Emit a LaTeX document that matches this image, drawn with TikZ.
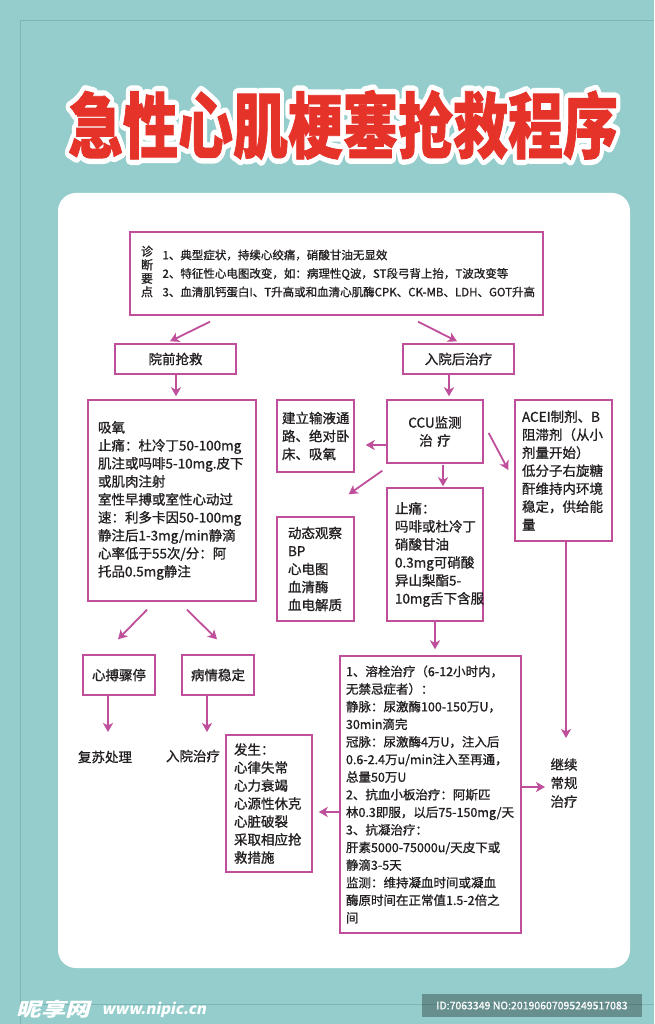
\documentclass[tikz,border=0pt]{standalone}
\usepackage{fontspec}
\setmainfont{Noto Sans CJK SC}[UprightFeatures={FakeBold=1}]
\newfontfamily\wmfont{Noto Sans CJK SC}[FakeSlant=0.2]
\newfontfamily\titleRed{Noto Sans CJK SC}[BoldFeatures={FakeBold=1.2}]
\newfontfamily\titleWhite{Noto Sans CJK SC}
\usetikzlibrary{arrows.meta,calc}
\definecolor{bg}{HTML}{94CDCC}
\definecolor{guide}{HTML}{7DB4B4}
\definecolor{mag}{HTML}{BF4F9A}
\definecolor{txt}{HTML}{231F20}
\definecolor{titlered}{HTML}{E5332A}
\newcommand\titlechars{急性心肌梗塞抢救程序}
\newcommand\titletext{\titleRed\fontsize{55}{55}\selectfont\bfseries\scalebox{1}[1.3]{\titlechars}}
\newcommand\titleoutline{\titleWhite\fontsize{55}{55}\selectfont\bfseries\scalebox{1}[1.3]{\special{pdf:literal direct 1 Tr 9 w 1 j 1 J}\titlechars\special{pdf:literal direct 0 Tr}}}
\begin{document}
\begin{tikzpicture}[x=1pt,y=-1pt,
  box/.style={draw=mag, line width=1.4pt, fill=white, text=txt, inner ysep=0pt},
  body/.style={font=\fontsize{13.5}{18}\selectfont, align=left},
  ctr/.style={font=\fontsize{13.5}{18}\selectfont, align=center},
  plain/.style={text=txt, font=\fontsize{13.5}{18.5}\selectfont, align=center},
  arr/.style={draw=mag, line width=1.8pt, -{Stealth[length=9pt,width=10pt,inset=2.5pt]}}]
\useasboundingbox (0,0) rectangle (654,1024);
\fill[bg] (0,0) rectangle (654,1024);
% guide lines
\draw[guide, line width=0.8pt] (20,20) -- (654,20);
\draw[guide, line width=0.8pt] (20,20) -- (20,1024);
\draw[guide, line width=0.8pt] (20,1004) -- (654,1004);
% white panel
\fill[white, rounded corners=18pt] (58,193) rectangle (630,968);
% title: stroked white outline, then red text
\node[text=white] (titleline) at (343,125) {\titleoutline};
\node[text=titlered] (title) at (343,125) {\titletext};

% diagnosis box
\node[box, minimum width=413pt, minimum height=83pt] (diag) at (336.5,273.5) {};
\node[text=txt, font=\fontsize{12}{13.5}\selectfont, align=center] (diaglab) at (147,271.5) {诊\\断\\要\\点};
\node[text=txt, anchor=west, font=\fontsize{11.5}{18.5}\selectfont, align=left] (diagtxt) at (159,273.5)
 {1、典型症状，持续心绞痛，硝酸甘油无显效\\
  2、特征性心电图改变，如：病理性Q波，ST段弓背上抬，T波改变等\\
  3、血清肌钙蛋白I、T升高或和血清心肌酶CPK、CK-MB、LDH、GOT升高};

\node[box, ctr, minimum width=121pt, minimum height=30pt] (pre) at (175.5,359) {院前抢救};
\node[box, ctr, minimum width=111pt, minimum height=30pt] (post) at (458.5,359) {入院后治疗};

\node[box, body, text width=148pt, inner xsep=10pt, minimum height=201pt] (oxy) at (172,500.5)
 {吸氧\\止痛：杜冷丁50-100mg\\肌注或吗啡5-10mg.皮下\\或肌肉注射\\室性早搏或室性心动过\\速：利多卡因50-100mg\\静注后1-3mg/min静滴\\心率低于55次/分：阿\\托品0.5mg静注};

\node[box, body, text width=67pt, inner xsep=5pt, minimum height=72pt] (infuse) at (315.5,436)
 {建立输液通\\路、绝对卧\\床、吸氧};
\node[box, ctr, text width=86pt, inner xsep=5pt, minimum height=63pt] (ccu) at (435,431.5)
 {CCU监测\\治\ 疗};
\node[box, body, text width=83pt, inner xsep=7pt, minimum height=141pt] (acei) at (563.5,470.5)
 {ACEI制剂、B\\阻滞剂（从小\\剂量开始）\\低分子右旋糖\\酐维持内环境\\稳定，供给能\\量};
\node[box, body, text width=55pt, inner xsep=11pt, minimum height=104pt] (observe) at (315.5,569)
 {动态观察\\BP\\心电图\\血清酶\\血电解质};
\node[box, body, text width=80pt, inner xsep=8pt, minimum height=133pt] (pain) at (435,554.5)
 {止痛：\\吗啡或杜冷丁\\硝酸甘油\\0.3mg可硝酸\\异山梨酯5-\\10mg舌下含服};

\node[box, ctr, minimum width=72pt, minimum height=40pt] (arrest) at (119,675) {心搏骤停};
\node[box, ctr, minimum width=72pt, minimum height=40pt] (stable) at (218,675) {病情稳定};

\node[box, align=left, font=\fontsize{12.5}{17.6}\selectfont, text width=169pt, inner xsep=6pt, minimum height=277pt] (big) at (430.5,794.5)
 {1、溶栓治疗（6-12小时内，\\无禁忌症者）：\\静脉：尿激酶100-150万U，\\30min滴完\\冠脉：尿激酶4万U，注入后\\0.6-2.4万u/min注入至再通，\\总量50万U\\2、抗血小板治疗：阿斯匹\\林0.3即服，以后75-150mg/天\\3、抗凝治疗：\\肝素5000-75000u/天皮下或\\静滴3-5天\\监测：维持凝血时间或凝血\\酶原时间在正常值1.5-2倍之\\间};

\node[box, body, text width=70pt, inner xsep=8pt, minimum height=137pt] (occur) at (269,803.5)
 {发生：\\心律失常\\心力衰竭\\心源性休克\\心脏破裂\\采取相应抢\\救措施};

\node[plain] (resus) at (105,757) {复苏处理};
\node[plain] (admit) at (193,756) {入院治疗};
\node[plain] (cont) at (564,783) {继续\\常规\\治疗};

% connectors
\draw[arr] ($(diag.south)+(-126.5,6)$) -- ($(pre.north)+(-5.5,-2)$);
\draw[arr] ($(diag.south)+(81.5,6)$) -- ($(post.north)+(-1.5,-2)$);
\draw[arr] ($(pre.south)+(0.5,0)$) -- ($(oxy.north)+(4,-3)$);
\draw[arr] ($(post.south)+(-9.5,0)$) -- ($(ccu.north)+(14,-3)$);
\draw[arr] ($(ccu.west)+(0,13.5)$) -- ($(infuse.east)+(11,9)$);
\draw[arr] ($(ccu.south west)+(-4,7)$) -- ($(observe.north east)+(-6,-22)$);
\draw[arr] ($(ccu.south)+(8,1)$) -- ($(pain.north)+(8,-1)$);
\draw[arr] ($(ccu.east)+(5,1.5)$) -- ($(acei.west)+(-6,-0.5)$);
\draw[arr] (pain.south) -- ($(big.north)+(4.5,-6)$);
\draw[arr] ($(acei.south)+(2.5,0)$) -- ($(cont.center)+(2,-45)$);
\draw[arr] ($(big.east)+(0,-7.5)$) -- ($(cont.center)+(-19,4)$);
\draw[arr] ($(big.west)+(0,17.5)$) -- ($(occur.east)+(6,8.5)$);
\draw[arr] ($(oxy.south)+(-25,8)$) -- ($(arrest.north)+(-1,-15)$);
\draw[arr] ($(oxy.south)+(15,8)$) -- ($(stable.north)+(-1,-15)$);
\draw[arr] ($(arrest.south)+(-11,0)$) -- ($(resus.center)+(3,-25)$);
\draw[arr] ($(stable.south)+(-11,0)$) -- ($(admit.center)+(14,-24)$);

% watermark
\node[anchor=west, text=white, font=\wmfont\bfseries\fontsize{19}{19}\selectfont] (wm1) at (13,1009) {\scalebox{1.3}[1]{昵享网}};
\node[anchor=west, text=white, font=\wmfont\bfseries\fontsize{15}{15}\selectfont] (wm2) at (98,1010) {www.nipic.cn};
\fill[black, fill opacity=0.3] (422,994) rectangle (642,1017);
\node[text=white, font=\fontsize{10.5}{10.5}\selectfont] (wmid) at (532,1005.5) {ID:7063349 NO:20190607095249517083};
\end{tikzpicture}
\end{document}
